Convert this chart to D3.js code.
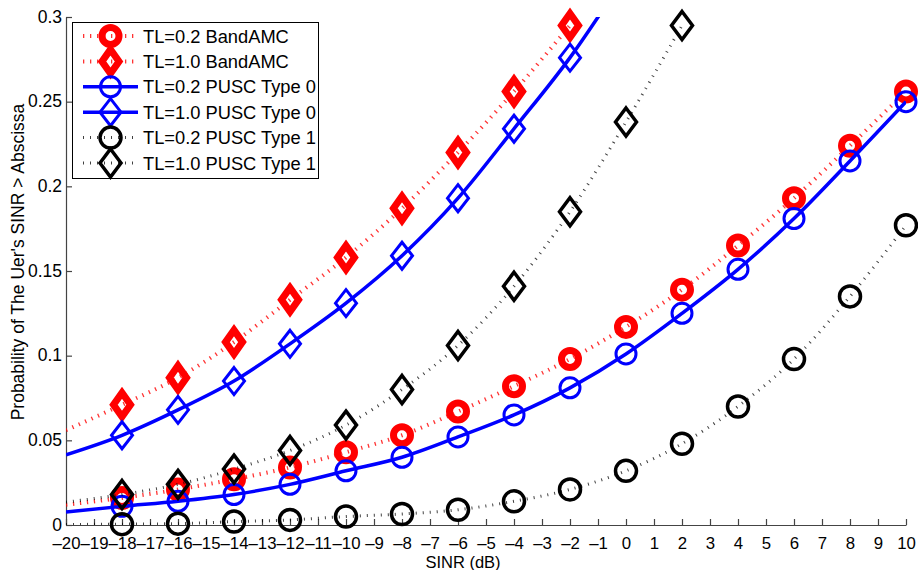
<!DOCTYPE html>
<html>
<head>
<meta charset="utf-8">
<script src="https://cdn.jsdelivr.net/npm/d3@7"></script>
<style>
  html, body { margin: 0; padding: 0; background: #fff; }
  svg { display: block; font-family: "Liberation Sans", Arial, Helvetica, sans-serif; }
</style>
</head>
<body>
<svg id="chart" width="918" height="570"></svg>
<script>
// SINR grid (dB); curves start at -20, markers every 2 dB from -18
const sinr = [-20, -18, -16, -14, -12, -10, -8, -6, -4, -2, 0, 2, 4, 6, 8, 10];

// Probability that the user's SINR exceeds the abscissa
const bandAmcTL02 = [0.012, 0.016, 0.021, 0.027, 0.034, 0.043, 0.053, 0.067, 0.082, 0.098, 0.117, 0.139, 0.165, 0.193, 0.224, 0.256];
const bandAmcTL10 = [0.056, 0.071, 0.087, 0.108, 0.133, 0.158, 0.187, 0.220, 0.256, 0.295];
const pusc0TL02   = [0.0077, 0.011, 0.014, 0.018, 0.024, 0.032, 0.040, 0.052, 0.065, 0.081, 0.101, 0.125, 0.151, 0.181, 0.215, 0.250];
const pusc0TL10   = [0.0415, 0.053, 0.068, 0.085, 0.107, 0.131, 0.159, 0.193, 0.234, 0.276, 0.325];
const pusc1TL02   = [0.0003, 0.0005, 0.0008, 0.002, 0.003, 0.005, 0.0065, 0.009, 0.014, 0.021, 0.032, 0.048, 0.070, 0.098, 0.135, 0.177];
const pusc1TL10   = [0.0135, 0.018, 0.024, 0.033, 0.044, 0.059, 0.080, 0.106, 0.141, 0.185, 0.238, 0.295];

const seriesNames = [
  "TL=0.2 BandAMC",
  "TL=1.0 BandAMC",
  "TL=0.2 PUSC Type 0",
  "TL=1.0 PUSC Type 0",
  "TL=0.2 PUSC Type 1",
  "TL=1.0 PUSC Type 1"
];

const xTicks = d3.range(-20, 11, 1);
const yTicks = [0, 0.05, 0.1, 0.15, 0.2, 0.25, 0.3];
const xLabel = "SINR (dB)";
const yLabel = "Probability of The Uer's SINR > Abscissa";

// Line / marker styles per series
const styles = [
  { color: "#ff0000", width: 4,   dash: "1.3 5.7", opacity: 0.8,  marker: "circle",  r: 8.5, hw: 0,  hh: 0,  mw: 7 },
  { color: "#ff0000", width: 4,   dash: "1.3 5.7", opacity: 0.8,  marker: "diamond", r: 0,   hw: 8.5, hh: 12, mw: 7 },
  { color: "#0000ff", width: 3.5, dash: null,      opacity: 1,    marker: "circle",  r: 10,  hw: 0,  hh: 0,  mw: 3 },
  { color: "#0000ff", width: 3.5, dash: null,      opacity: 1,    marker: "diamond", r: 0,   hw: 10.5, hh: 13.5, mw: 3 },
  { color: "#000000", width: 3,   dash: "1 6",     opacity: 0.75, marker: "circle",  r: 10.5, hw: 0, hh: 0,  mw: 3.5 },
  { color: "#000000", width: 3,   dash: "1 6",     opacity: 0.75, marker: "diamond", r: 0,   hw: 10.5, hh: 14, mw: 3.5 }
];

const valueSets = [bandAmcTL02, bandAmcTL10, pusc0TL02, pusc0TL10, pusc1TL02, pusc1TL10];
const series = valueSets.map((vals, i) => ({
  name: seriesNames[i],
  style: styles[i],
  points: vals.map((v, j) => ({ x: sinr[j], y: v }))
}));

const svg = d3.select("#chart");
const plotLeft = 66, plotRight = 906, plotTop = 17, plotBottom = 525;
const x = d3.scaleLinear().domain([-20, 10]).range([plotLeft, plotRight]);
const y = d3.scaleLinear().domain([0, 0.3]).range([plotBottom, plotTop]);

svg.append("defs").append("clipPath").attr("id", "plotClip")
  .append("rect").attr("x", plotLeft).attr("y", plotTop)
  .attr("width", plotRight - plotLeft).attr("height", plotBottom - plotTop);

// Axes (no box, ticks pointing inward)
const xAxis = svg.append("g").attr("transform", `translate(0,${plotBottom})`)
  .call(d3.axisBottom(x).tickValues(xTicks).tickSizeInner(-6).tickSizeOuter(0)
    .tickFormat(d => String(d).replace("-", "\u2013")));
const yAxis = svg.append("g").attr("transform", `translate(${plotLeft},0)`)
  .call(d3.axisLeft(y).tickValues(yTicks).tickSizeInner(-6).tickSizeOuter(0)
    .tickFormat(d => d === 0 ? "0" : String(d)));

[xAxis, yAxis].forEach(g => {
  g.select(".domain").attr("stroke", "#444").attr("stroke-width", 1.2);
  g.selectAll(".tick line").attr("stroke", "#444").attr("stroke-width", 1.2);
  g.selectAll(".tick text").attr("fill", "#000")
    .style("font-family", "'Liberation Sans', Arial, sans-serif");
});
xAxis.selectAll(".tick text").style("font-size", "16.8px").attr("y", 12).attr("dy", "0.71em");
yAxis.selectAll(".tick text").style("font-size", "17.5px").attr("x", -4).attr("dy", "0.3em");

// Curves
const line = d3.line().x(d => x(d.x)).y(d => y(d.y)).curve(d3.curveMonotoneX);
const plot = svg.append("g");

function drawMarker(g, s, cx, cy) {
  if (s.marker === "circle") {
    g.append("circle").attr("cx", cx).attr("cy", cy).attr("r", s.r)
      .attr("fill", "none").attr("stroke", s.color).attr("stroke-width", s.mw);
  } else {
    g.append("path")
      .attr("d", `M${cx},${cy - s.hh}L${cx + s.hw},${cy}L${cx},${cy + s.hh}L${cx - s.hw},${cy}Z`)
      .attr("fill", "none").attr("stroke", s.color).attr("stroke-width", s.mw)
      .attr("stroke-linejoin", "miter");
  }
}

series.forEach(ser => {
  const s = ser.style;
  const g = plot.append("g");
  g.append("path").datum(ser.points)
    .attr("clip-path", "url(#plotClip)")
    .attr("d", line)
    .attr("fill", "none").attr("stroke", s.color).attr("stroke-width", s.width)
    .attr("stroke-opacity", s.opacity)
    .attr("stroke-dasharray", s.dash);
  ser.points
    .filter(p => p.x >= -18 && p.x % 2 === 0 && p.y <= 0.3)
    .forEach(p => drawMarker(g, s, x(p.x), y(p.y)));
});

// Legend
const lg = svg.append("g");
lg.append("rect").attr("x", 72.5).attr("y", 22.5).attr("width", 246).attr("height", 156)
  .attr("fill", "#fff").attr("stroke", "#000").attr("stroke-width", 1);
series.forEach((ser, i) => {
  const s = ser.style;
  const cy = 36 + i * 25.4;
  lg.append("line").attr("x1", 83).attr("x2", 138).attr("y1", cy).attr("y2", cy)
    .attr("stroke", s.color).attr("stroke-width", s.width)
    .attr("stroke-opacity", s.opacity).attr("stroke-dasharray", s.dash);
  drawMarker(lg, s, 110.5, cy);
  lg.append("text").attr("x", 143).attr("y", cy).attr("dy", "0.36em")
    .style("font-size", "18.3px").attr("fill", "#000").text(ser.name);
});

// Axis titles
svg.append("text").attr("x", 463).attr("y", 568).attr("text-anchor", "middle")
  .style("font-size", "16.5px").text(xLabel);
svg.append("text").attr("transform", "translate(24,262) rotate(-90)")
  .attr("text-anchor", "middle").style("font-size", "17.5px").text(yLabel);
</script>
</body>
</html>
